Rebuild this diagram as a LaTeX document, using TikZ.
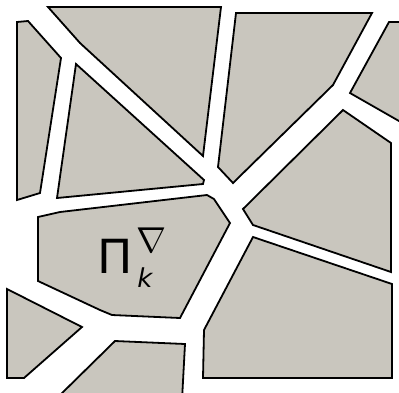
\RequirePackage{fix-cm}
\documentclass[tikz,border=0pt]{standalone}
\usepackage{fontspec}
\setmainfont{DejaVu Sans}
\definecolor{cellgray}{RGB}{201,198,190}
\begin{document}
\begin{tikzpicture}[x=1pt,y=-1pt,
  cell/.style={fill=cellgray,draw=black,line width=1.8pt,line join=miter},
  lbl/.style={inner sep=0pt,anchor=base}]
\useasboundingbox (0,0) rectangle (399,392);
\clip (0,0) rectangle (399,392);
% cells
\draw[cell] (17,22) -- (28,21) -- (61,58) -- (40,193) -- (17,200) -- cycle;
\draw[cell] (48,7) -- (221,7) -- (203,156) -- (80,43) -- cycle;
\draw[cell] (76,64) -- (204,180) -- (203,184) -- (57,198) -- cycle;
\draw[cell] (236,13) -- (372,13) -- (333,85) -- (233,183) -- (218,167) -- cycle;
\draw[cell] (389,22) -- (410,22) -- (410,126) -- (399,121) -- (350,93) -- cycle;
\draw[cell] (343,110) -- (391,143) -- (391,272) -- (253,225) -- (243,209) -- cycle;
\draw[cell] (253,237) -- (392,284) -- (392,378) -- (203,378) -- (204,330) -- cycle;
\draw[cell] (38,217) -- (60,212) -- (207,195) -- (214,199) -- (230,223) -- (180,318) -- (112,315) -- (100,310) -- (38,281) -- cycle;
\draw[cell] (7,289) -- (82,327) -- (24,378) -- (7,378) -- cycle;
\draw[cell] (115,341) -- (185,344) -- (182,400) -- (55,400) -- cycle;
% label
\node[lbl,font=\fontsize{47}{47}\selectfont] (pi) at (115,273) {Π};
\node[lbl,font=\fontsize{36}{36}\selectfont] (nabla) at (151,252) {$\nabla$};
\node[lbl,font=\fontsize{26}{26}\selectfont\itshape] (k) at (145,287) {k};
\end{tikzpicture}
\end{document}
